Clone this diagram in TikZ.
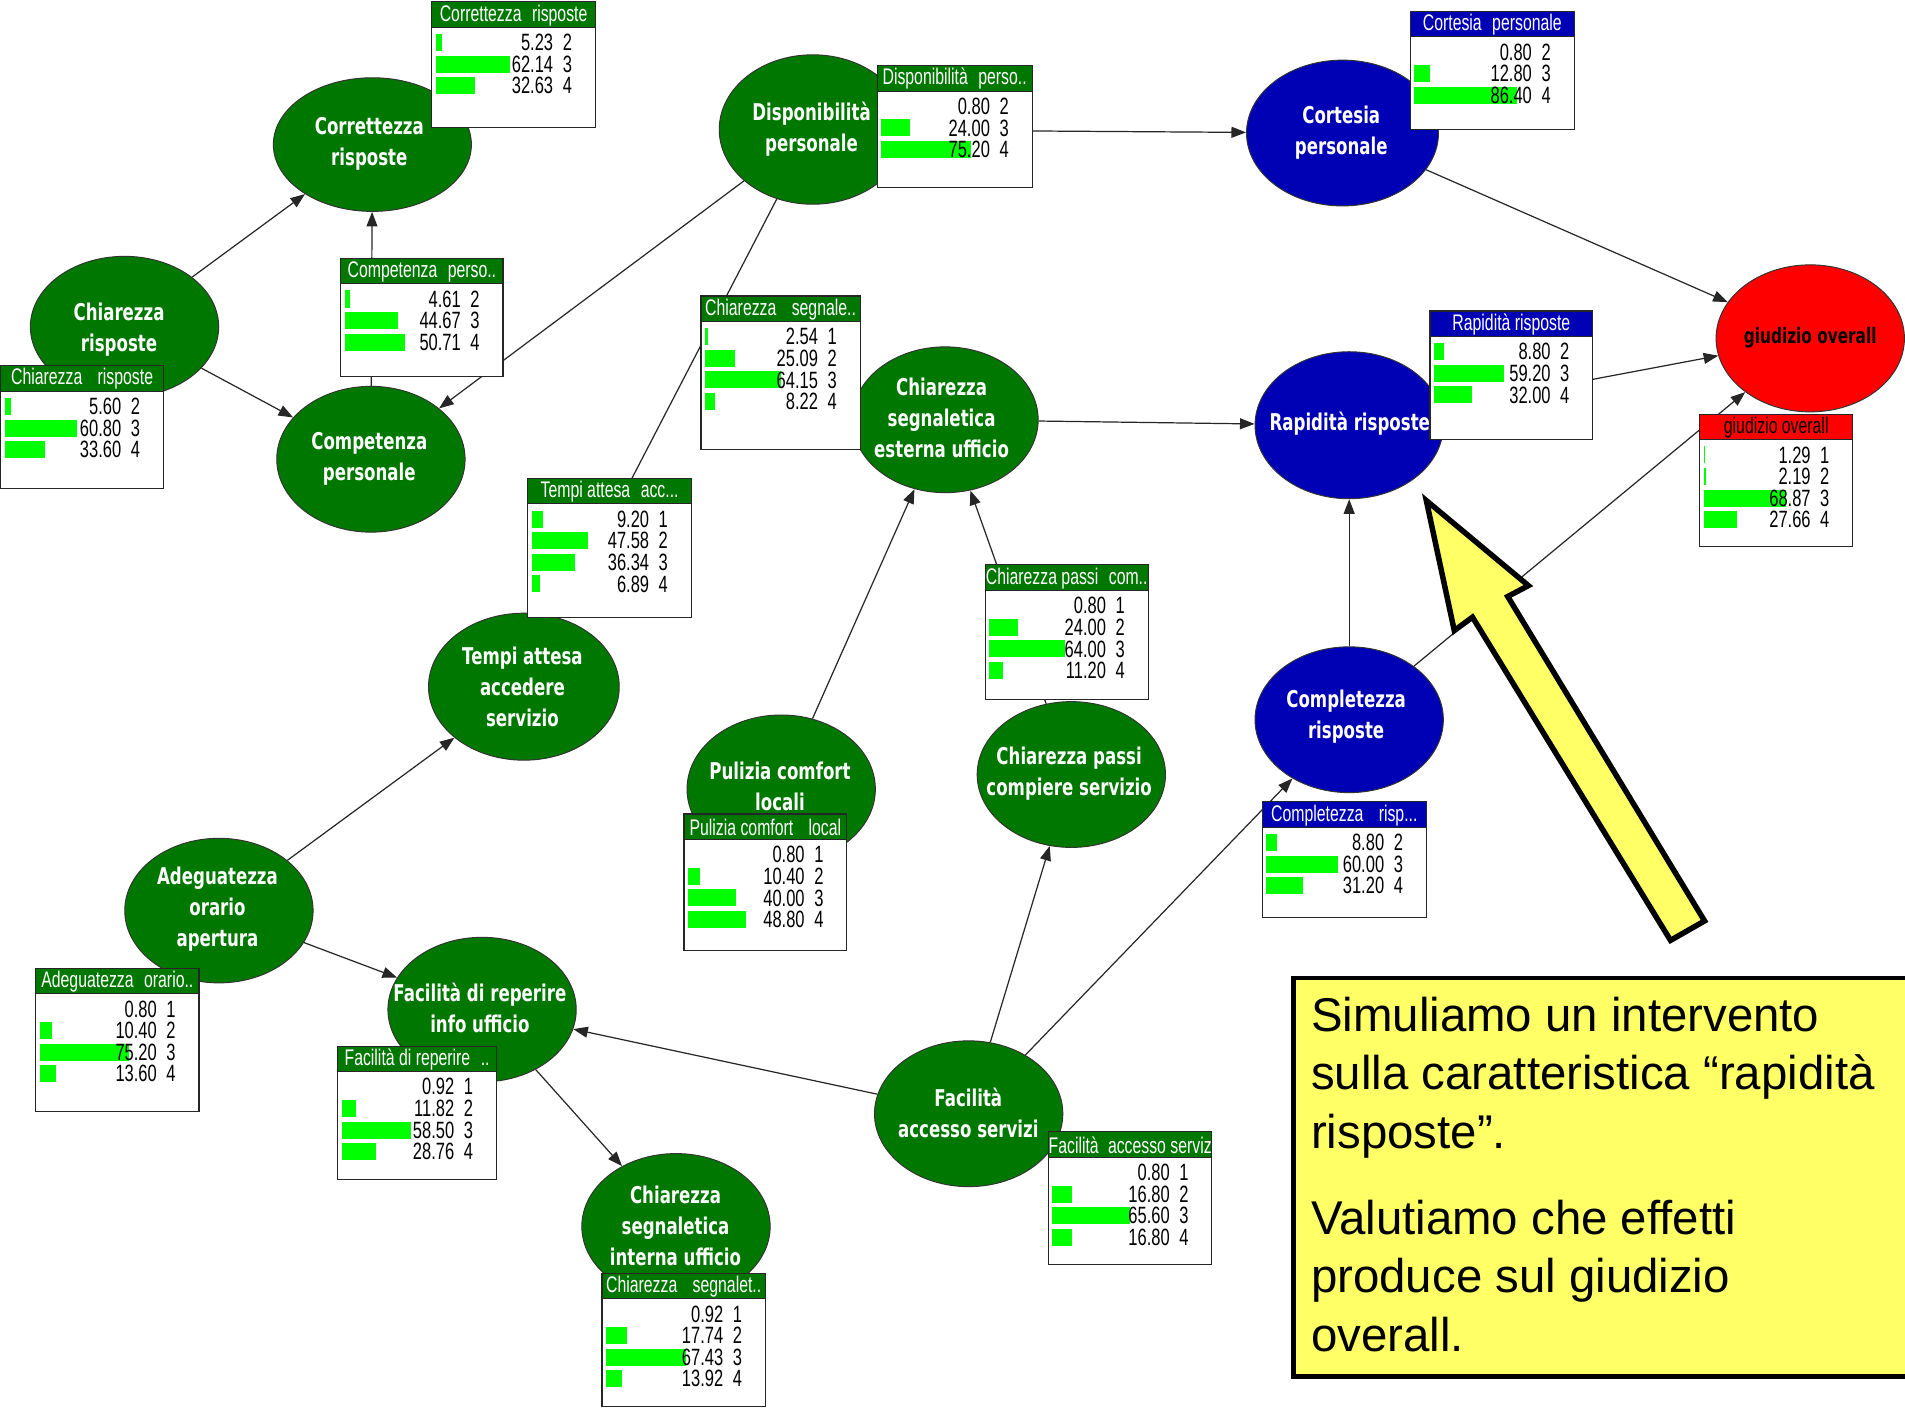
\documentclass[tikz,border=0pt]{standalone}
\usepackage{fontspec}
\usetikzlibrary{arrows.meta,shapes.geometric,calc}
\newfontfamily\lblfont{DejaVu Sans}[FakeStretch=0.72]
\newfontfamily\monfont{Liberation Sans}[FakeStretch=0.7]
\newfontfamily\notefont{Liberation Sans}
\definecolor{nodegreen}{RGB}{0,120,0}
\definecolor{nodeblue}{RGB}{0,0,180}
\definecolor{nodered}{RGB}{255,0,0}
\definecolor{bargreen}{RGB}{0,255,0}
\definecolor{noteyellow}{RGB}{255,255,102}
\pgfdeclarelayer{bg}
\pgfdeclarelayer{edges}
\pgfsetlayers{bg,edges,main}

% monitor window: name, left x, top y, width, height, header style, title, value/state list
\newcommand{\drawmonitor}[8]{%
  \node[monbox, minimum width=#4pt, minimum height=#5pt] (#1) at (#2,#3) {};
  \node[monhead, #6, minimum width=#4pt] (#1-h) at (#2,#3) {};
  \begin{scope}
    \clip (#1-h.south west) rectangle (#1-h.north east);
    \node[montitle, #6, fill=none] (#1-t) at ($(#1-h.center)+(0,0.5)$) {#7};
  \end{scope}
  \foreach \v/\s [count=\i] in {#8} {
    \path ($(#1-h.south west)+(0,12.5+17.8*\i-17.8)$) coordinate (#1-r\i);
    \ifdim\v pt>1pt
      \fill[bargreen] ($(#1-r\i)+(3.2,-7)$) rectangle ++(0.98*\v,14);
    \fi
    \node[monval] (#1-v\i) at ($(#1-r\i)+(#4-34.5,0)$) {\v};
    \node[monstate] (#1-s\i) at ($(#1-r\i)+(#4-27,0)$) {\s};
  }
}

\begin{document}
\begin{tikzpicture}[x=1pt, y=-1pt,
  ell/.style={ellipse, draw=black!80, line width=0.8pt, inner sep=0pt,
              minimum width=155pt, minimum height=120pt},
  eg/.style={ell, fill=nodegreen},
  eb/.style={ell, fill=nodeblue},
  er/.style={ell, fill=nodered},
  lbl/.style={font=\lblfont\bfseries\fontsize{19}{25.5}\selectfont, text=white,
              align=center, inner sep=0pt},
  conn/.style={draw=black!85, line width=1pt, -{Triangle[length=12pt, width=9pt]}},
  monbox/.style={draw=black!85, fill=white, line width=0.9pt, anchor=north west,
                 inner sep=0pt, outer sep=0pt},
  monhead/.style={draw=black!85, line width=0.9pt, anchor=north west, inner sep=0pt,
                  outer sep=0pt, minimum height=21pt},
  montitle/.style={font=\monfont\fontsize{18.6}{20}\selectfont, inner sep=0pt, anchor=center},
  monval/.style={font=\monfont\fontsize{19.4}{20}\selectfont, inner sep=0pt, anchor=east, text=black},
  monstate/.style={font=\monfont\fontsize{19.4}{20}\selectfont, inner sep=0pt, anchor=west, text=black},
  hgreen/.style={fill=nodegreen, text=white},
  hblue/.style={fill=nodeblue, text=white},
  hred/.style={fill=nodered, text=black},
  notebox/.style={draw=black, line width=4pt, fill=noteyellow, anchor=north west,
                  inner sep=0pt, minimum width=520pt, minimum height=328pt},
  notetext/.style={font=\notefont\fontsize{39}{48}\selectfont, anchor=base west, inner sep=0pt},
  bigarrow/.style={draw=black, line width=4.5pt, fill=noteyellow, line join=miter}
]
\useasboundingbox (0,0) rectangle (1568,1159);
\begin{pgfonlayer}{bg}
  \fill[white] (0,0) rectangle (1568,1159);
\end{pgfonlayer}

% ---------- variables ----------
\node[eg, minimum width=163pt, minimum height=110pt] (cor) at (306.5,119) {};
\node[eg, minimum height=116pt] (chr) at (102.5,269) {};
\node[eg] (comp) at (305.3,378) {};
\node[eg, minimum width=154pt, minimum height=123pt] (disp) at (669,106.6) {};
\node[eb, minimum width=158pt] (cort) at (1105,109.5) {};
\node[er, minimum height=121pt] (giud) at (1490,278.5) {};
\node[eb, minimum height=121pt] (rap) at (1110.5,350) {};
\node[eg, minimum width=153pt] (seste) at (778,345.5) {};
\node[eg, minimum width=157pt, minimum height=121pt] (tempi) at (431.2,565.2) {};
\node[eg, minimum height=122pt] (pul) at (643,649.5) {};
\node[eg] (passi) at (881.8,637.5) {};
\node[eb] (compl) at (1110.5,592.4) {};
\node[eg, minimum height=119pt] (ade) at (180.2,749.5) {};
\node[eg, minimum height=119pt] (facrep) at (396.8,831) {};
\node[eg] (facacc) at (797.3,916.7) {};
\node[eg] (sint) at (556.4,1009.5) {};

\node[lbl] (cor-l) at (304,118) {Correttezza\\risposte};
\node[lbl] (chr-l) at (98,271) {Chiarezza\\risposte};
\node[lbl] (comp-l) at (304,378) {Competenza\\personale};
\node[lbl] (disp-l) at (668,106) {Disponibilità\\personale};
\node[lbl] (cort-l) at (1104,109) {Cortesia\\personale};
\node[lbl, text=black, font=\lblfont\bfseries\fontsize{17.5}{24}\selectfont] (giud-l) at (1490,278) {giudizio overall};
\node[lbl] (rap-l) at (1111,349) {Rapidità risposte};
\node[lbl] (seste-l) at (775,344) {Chiarezza\\segnaletica\\esterna ufficio};
\node[lbl] (tempi-l) at (430,565) {Tempi attesa\\accedere\\servizio};
\node[lbl] (pul-l) at (642,647) {Pulizia comfort\\locali};
\node[lbl] (passi-l) at (880,637) {Chiarezza passi\\compiere servizio};
\node[lbl] (compl-l) at (1108,590) {Completezza\\risposte};
\node[lbl] (ade-l) at (179,748) {Adeguatezza\\orario\\apertura};
\node[lbl] (facrep-l) at (395,830) {Facilità di reperire\\info ufficio};
\node[lbl] (facacc-l) at (797,916) {Facilità\\accesso servizi};
\node[lbl] (sint-l) at (556,1009) {Chiarezza\\segnaletica\\interna ufficio};

% ---------- dependencies ----------
\begin{pgfonlayer}{edges}
  \draw[conn] (chr) -- (cor);
  \draw[conn] (chr) -- (comp);
  \draw[conn] (comp) -- (cor);
  \draw[conn] (disp) -- (comp);
  \draw[conn] (disp) -- (cort);
  \draw[conn] (disp) -- (tempi);
  \draw[conn] (cort) -- (giud);
  \draw[conn] (rap) -- (giud);
  \draw[conn] (compl) -- (giud);
  \draw[conn] (compl) -- (rap);
  \draw[conn] (seste) -- (rap);
  \draw[conn] (pul) -- (seste);
  \draw[conn] (passi) -- (seste);
  \draw[conn] (ade) -- (tempi);
  \draw[conn] (ade) -- (facrep);
  \draw[conn] (facacc) -- (facrep);
  \draw[conn] (facrep) -- (sint);
  \draw[conn] (facacc) -- (passi);
  \draw[conn] (facacc) -- (compl);
\end{pgfonlayer}

% ---------- monitor windows ----------
\drawmonitor{mA}{355.5}{1.5}{134.5}{103.5}{hgreen}{Correttezza\hspace{5pt} risposte}{5.23/2, 62.14/3, 32.63/4}
\drawmonitor{mB}{280.5}{212.6}{133.5}{97.4}{hgreen}{Competenza\hspace{5pt} perso..}{4.61/2, 44.67/3, 50.71/4}
\drawmonitor{mC}{0.7}{301}{133.8}{101}{hgreen}{Chiarezza\hspace{9pt} risposte}{5.60/2, 60.80/3, 33.60/4}
\drawmonitor{mD}{722}{54}{127.5}{100.5}{hgreen}{Disponibilità\hspace{5pt} perso..}{0.80/2, 24.00/3, 75.20/4}
\drawmonitor{mE}{1161}{9.4}{134.6}{97}{hblue}{Cortesia\hspace{5pt} personale}{0.80/2, 12.80/3, 86.40/4}
\drawmonitor{mF}{577}{243.6}{131}{126.2}{hgreen}{Chiarezza\hspace{9pt} segnale..}{2.54/1, 25.09/2, 64.15/3, 8.22/4}
\drawmonitor{mG}{1177}{256}{134}{106}{hblue}{Rapidità risposte}{8.80/2, 59.20/3, 32.00/4}
\drawmonitor{mH}{1399}{341}{126}{109}{hred}{giudizio overall}{1.29/1, 2.19/2, 68.87/3, 27.66/4}
\drawmonitor{mI}{434.5}{393.7}{134.5}{114.8}{hgreen}{Tempi attesa\hspace{5pt} acc...}{9.20/1, 47.58/2, 36.34/3, 6.89/4}
\drawmonitor{mJ}{811}{465}{134}{111}{hgreen}{Chiarezza passi\hspace{5pt} com..}{0.80/1, 24.00/2, 64.00/3, 11.20/4}
\drawmonitor{mK}{563}{670}{134}{112}{hgreen}{Pulizia comfort\hspace{9pt} local}{0.80/1, 10.40/2, 40.00/3, 48.80/4}
\drawmonitor{mL}{1039}{660}{135}{95}{hblue}{Completezza\hspace{9pt} risp...}{8.80/2, 60.00/3, 31.20/4}
\drawmonitor{mM}{29.4}{797}{134.4}{118}{hgreen}{Adeguatezza\hspace{5pt} orario..}{0.80/1, 10.40/2, 75.20/3, 13.60/4}
\drawmonitor{mN}{278}{861}{130.6}{109.6}{hgreen}{Facilità di reperire\hspace{5pt} ..}{0.92/1, 11.82/2, 58.50/3, 28.76/4}
\drawmonitor{mO}{863}{931.5}{134.5}{109.5}{hgreen}{Facilità\hspace{4pt} accesso serviz}{0.80/1, 16.80/2, 65.60/3, 16.80/4}
\drawmonitor{mP}{495.5}{1048}{134.5}{110}{hgreen}{Chiarezza\hspace{9pt} segnalet..}{0.92/1, 17.74/2, 67.43/3, 13.92/4}

% ---------- note and pointer ----------
\node[notebox] (note) at (1063,803) {};
\node[notetext] (n1) at (1079,849) {Simuliamo un intervento};
\node[notetext] (n2) at (1079,897) {sulla caratteristica “rapidità};
\node[notetext] (n3) at (1079,945) {risposte”.};
\node[notetext] (n4) at (1079,1016) {Valutiamo che effetti};
\node[notetext] (n5) at (1079,1064) {produce sul giudizio};
\node[notetext] (n6) at (1079,1112) {overall.};

\draw[bigarrow] (1174,412) -- (1258,482) -- (1241,491) -- (1403,758) -- (1375,774)
  -- (1212,508) -- (1197,519) -- cycle;
\end{tikzpicture}
\end{document}
